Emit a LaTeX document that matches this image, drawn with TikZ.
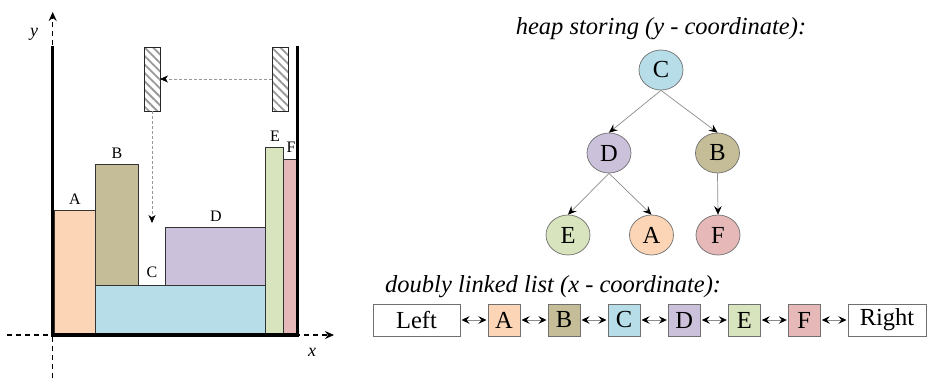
\documentclass[tikz,border=0pt]{standalone}
\usepackage{fontspec}
\setmainfont{Liberation Serif}
\usetikzlibrary{arrows.meta,patterns.meta,shapes.geometric}

\definecolor{cA}{HTML}{FBD5B5}
\definecolor{cB}{HTML}{C4BD97}
\definecolor{cC}{HTML}{B7DEE8}
\definecolor{cD}{HTML}{CCC1DA}
\definecolor{cE}{HTML}{D7E4BD}
\definecolor{cF}{HTML}{E6B9B8}
\definecolor{edgegray}{HTML}{8C8C8C}
\definecolor{rimgray}{HTML}{707070}

\tikzset{
  wall/.style={line width=3.4pt,line cap=rect},
  bar/.style={draw=black!80,line width=0.9pt},
  barlabel/.style={inner sep=0pt,font=\fontsize{16}{18}\selectfont},
  axis/.style={line width=1.3pt,dash pattern=on 5pt off 4pt,
    -{Stealth[length=9pt,width=8pt,inset=3pt]}},
  axislabel/.style={inner sep=0pt,font=\fontsize{18}{20}\selectfont\itshape},
  hatchbox/.style={draw=black!85,line width=0.9pt,minimum width=16pt,minimum height=64pt,
    inner sep=0pt,outer sep=0pt,
    pattern={Lines[angle=-45,distance=6pt,line width=1.8pt]},pattern color=black!40},
  moveline/.style={draw=black!40,line width=0.7pt,dash pattern=on 3pt off 2pt,
    -{Stealth[length=8pt,width=7pt,inset=2.5pt,black]}},
  heapnode/.style={ellipse,draw=rimgray,line width=0.7pt,minimum width=44pt,minimum height=40pt,
    inner sep=0pt,font=\fontsize{24.5}{26}\selectfont},
  heapedge/.style={draw=edgegray,line width=0.7pt,
    -{Stealth[length=8.5pt,width=7.5pt,inset=3pt,black]}},
  listnode/.style={draw=rimgray,line width=0.7pt,minimum width=32pt,minimum height=32pt,
    inner sep=0pt,outer sep=0pt,font=\fontsize{24.5}{26}\selectfont},
  listedge/.style={draw=edgegray,line width=0.7pt,shorten >=1.5pt,shorten <=1.5pt,
    {Stealth[length=8pt,width=7.5pt,inset=3pt,black]}-{Stealth[length=8pt,width=7.5pt,inset=3pt,black]}},
  caption/.style={inner sep=0pt,font=\fontsize{24.5}{26}\selectfont\itshape}
}

\begin{document}
\begin{tikzpicture}[x=1pt,y=-1pt]
\useasboundingbox[fill=white] (0,0) rectangle (929,378);

% ---- the container with its stacked pieces ----
\fill[cA] (54.3,210) rectangle (95.7,335);
\draw[bar] (54.3,335) -- (54.3,210) -- (95.7,210) -- (95.7,335);
\draw[bar,fill=cB] (95.7,164.3) rectangle (138.3,285);
\draw[bar,fill=cC] (95.7,285) rectangle (265.7,335);
\draw[bar,fill=cD] (165.7,227.7) rectangle (265.7,285);
\draw[bar,fill=cE] (265.7,147.7) rectangle (283,335);
\draw[bar,fill=cF] (283,159) rectangle (296,335);

\node[barlabel] (labA) at (75,199) {A};
\node[barlabel] (labB) at (117,153) {B};
\node[barlabel] (labC) at (152,272) {C};
\node[barlabel] (labD) at (216,216) {D};
\node[barlabel] (labE) at (275,136) {E};
\node[barlabel] (labF) at (291,147) {F};

% axes
\coordinate (xs) at (7,335);
\coordinate (xe) at (334,335);
\coordinate (ys) at (52.7,378);
\coordinate (ye) at (52.7,12);
\draw[axis] (xs) -- (xe);
\draw[axis] (ys) -- (ye);
\node[axislabel] (xlab) at (312,352) {x};
\node[axislabel] (ylab) at (34,34) {y};

% walls and floor
\draw[wall] (52.7,48) -- (52.7,335) -- (297.7,335) -- (297.7,48);

% falling piece: moved left, then dropped
\node[hatchbox] (hr) at (280,79) {};
\node[hatchbox] (hl) at (152,79) {};
\coordinate (drop) at (152,223);
\draw[moveline] (hr.west) -- (hl.east);
\draw[moveline] (hl.south) -- (drop);

% ---- heap ----
\node[caption] (heaptitle) at (661,29) {heap storing (y - coordinate):};
\node[heapnode,fill=cC] (hC) at (661,70) {C};
\node[heapnode,fill=cD] (hD) at (609,153) {D};
\node[heapnode,fill=cB] (hB) at (717.5,153) {B};
\node[heapnode,fill=cE] (hE) at (568,235) {E};
\node[heapnode,fill=cA] (hA) at (651.5,235) {A};
\node[heapnode,fill=cF] (hF) at (718,235) {F};
\draw[heapedge] (hC.south) -- (hD.north);
\draw[heapedge] (hC.south) -- (hB.north);
\draw[heapedge] (hD.south) -- (hE.north);
\draw[heapedge] (hD.south) -- (hA.north);
\draw[heapedge] (hB.south) -- (hF.north);

% ---- doubly linked list ----
\node[caption,anchor=base west] (listtitle) at (385,292) {doubly linked list (x - coordinate):};
\node[listnode,minimum width=87pt] (lL) at (416.5,320) {Left};
\node[listnode,fill=cA] (lA) at (504,320) {A};
\node[listnode,fill=cB] (lB) at (564,320) {B};
\node[listnode,fill=cC] (lC) at (624,320) {C};
\node[listnode,fill=cD] (lD) at (684.3,320) {D};
\node[listnode,fill=cE] (lE) at (744.3,320) {E};
\node[listnode,fill=cF] (lF) at (804.3,320) {F};
\node[listnode,minimum width=78pt] (lR) at (887,320) {Right};
\draw[listedge] (lL) -- (lA);
\draw[listedge] (lA) -- (lB);
\draw[listedge] (lB) -- (lC);
\draw[listedge] (lC) -- (lD);
\draw[listedge] (lD) -- (lE);
\draw[listedge] (lE) -- (lF);
\draw[listedge] (lF) -- (lR);
\end{tikzpicture}
\end{document}
